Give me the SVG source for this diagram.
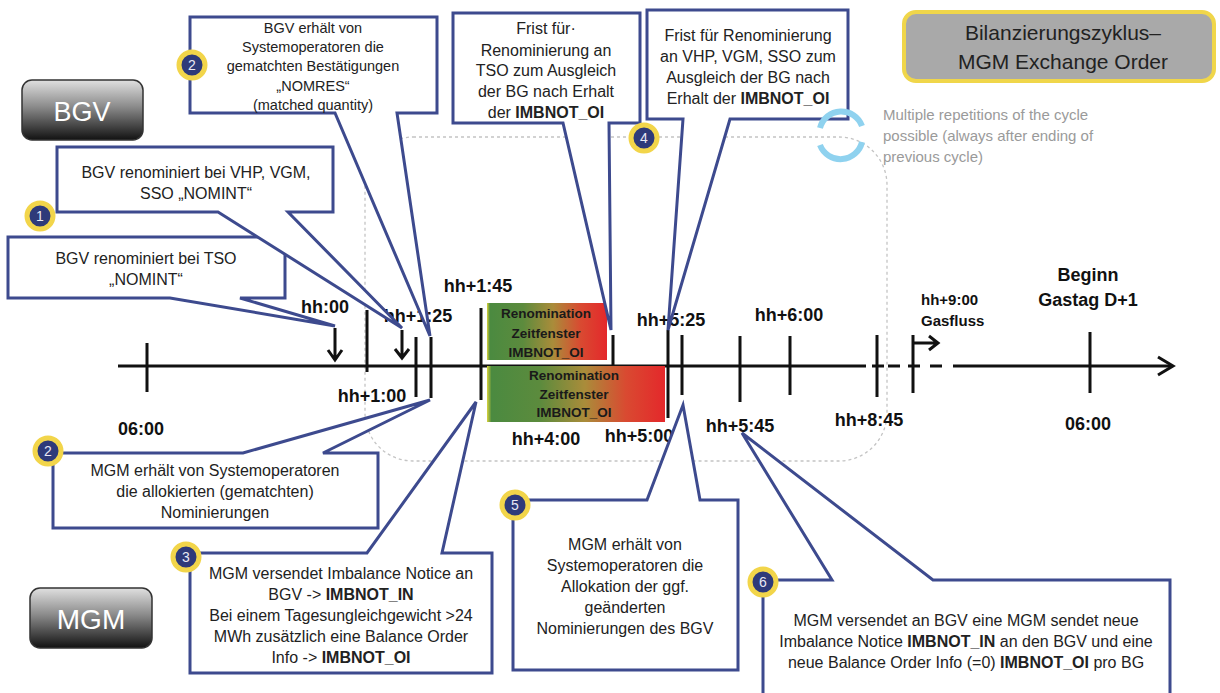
<svg xmlns="http://www.w3.org/2000/svg" width="1220" height="693" viewBox="0 0 1220 693">
<defs>
<linearGradient id="reno" x1="0" x2="1" y1="0" y2="0">
<stop offset="0" stop-color="#d9d33c"/>
<stop offset="0.025" stop-color="#4b8a40"/>
<stop offset="0.3" stop-color="#5c8b3d"/>
<stop offset="0.55" stop-color="#aa8c3a"/>
<stop offset="0.78" stop-color="#d94a31"/>
<stop offset="1" stop-color="#e4282b"/>
</linearGradient>
<linearGradient id="dark" x1="0" x2="0" y1="0" y2="1">
<stop offset="0" stop-color="#e0e0e0"/>
<stop offset="0.45" stop-color="#8a8a8a"/>
<stop offset="1" stop-color="#121212"/>
</linearGradient>
<style>
text{font-family:"Liberation Sans",Arial,sans-serif;}
.co{fill:#fff;stroke:#3d4a8e;stroke-width:3;stroke-linejoin:miter;}
.ct{font-size:16px;fill:#222;text-anchor:middle;}
.ct2{font-size:14.5px;fill:#222;text-anchor:middle;}
.b{font-weight:bold;}
.tl{stroke:#111;stroke-width:3;fill:none;}
.lab{font-size:18px;font-weight:bold;fill:#111;text-anchor:middle;}
.rt{font-size:13.5px;font-weight:bold;fill:#1a1a1a;text-anchor:middle;}
.badge circle{fill:#2e3a7a;stroke:#f2d54a;stroke-width:5;}
.badge text{font-size:14px;fill:#e8e8f4;text-anchor:middle;}
.role{stroke:#333;stroke-width:1.5;fill:url(#dark);}
.roletxt{fill:#fff;text-anchor:middle;}
</style>
</defs>
<rect width="1220" height="693" fill="#fff"/>

<!-- cycle frame -->
<rect id="cycle-frame" x="365" y="137" width="522" height="324" rx="48" fill="none" stroke="#c4c4c4" stroke-width="1.3" stroke-dasharray="3 3"/>

<!-- timeline -->
<g id="timeline">
<path class="tl" d="M118,366 H866 M872,366 H884 M888,366 H900 M908,366 H920 M930,366 H942 M953,366 H1172"/>
<path class="tl" d="M1158,357 L1173,366 L1158,375"/>
<path class="tl" d="M147,343 V392 M367,310 V372 M416,337 V397 M431,337 V398 M481,308 V400 M613,335 V367 M668,330 V418 M682,335 V395 M740,336 V402 M790,336 V395 M877,335 V397 M913,335 V393 M1090,332 V393"/>
<rect x="487" y="303" width="120" height="57" fill="url(#reno)"/>
<rect x="487" y="366" width="178" height="56" fill="url(#reno)"/>
<text class="rt" x="546" y="318">Renomination</text>
<text class="rt" x="546" y="338">Zeitfenster</text>
<text class="rt" x="546" y="357">IMBNOT_OI</text>
<text class="rt" x="574" y="380">Renomination</text>
<text class="rt" x="574" y="399">Zeitfenster</text>
<text class="rt" x="574" y="417">IMBNOT_OI</text>
<text class="lab" x="141" y="435">06:00</text>
<text class="lab" x="325" y="313">hh:00</text>
<text class="lab" x="418" y="322">hh+1:25</text>
<text class="lab" x="478" y="292">hh+1:45</text>
<text class="lab" x="372" y="402">hh+1:00</text>
<text class="lab" x="546" y="445">hh+4:00</text>
<text class="lab" x="639" y="442">hh+5:00</text>
<text class="lab" x="671" y="326">hh+5:25</text>
<text class="lab" x="740" y="432">hh+5:45</text>
<text class="lab" x="789" y="321">hh+6:00</text>
<text class="lab" x="869" y="426">hh+8:45</text>
<text class="lab" x="1088" y="430">06:00</text>
<text class="lab" x="1088" y="281">Beginn</text>
<text class="lab" x="1088" y="306">Gastag D+1</text>
<text x="921" y="305" style="font-size:15px;font-weight:bold;fill:#111">hh+9:00</text>
<text x="921" y="326" style="font-size:15px;font-weight:bold;fill:#111">Gasfluss</text>
</g>

<g id="connectors">
<path class="tl" d="M335,328 V360 M328,350 L335,360 L342,350"/>
<path class="tl" d="M402,330 V358 M395,349 L402,358 L409,349"/>
<path class="tl" d="M913,343 H937 M929,336 L938,343 L929,350"/>
</g>

<!-- callouts -->
<g id="callout-1b">
<path class="co" d="M8,237 H285 V298 H240 L335,326 L170,298 H8 Z"/>
<text class="ct" x="146" y="264">BGV renominiert bei TSO</text>
<text class="ct" x="146" y="285">„NOMINT“</text>
</g>
<g id="callout-1a">
<path class="co" d="M57,147 H333 V212 H288 L402,328 L218,212 H57 Z"/>
<text class="ct" x="196" y="178">BGV renominiert bei VHP, VGM,</text>
<text class="ct" x="196" y="199">SSO „NOMINT“</text>
</g>
<g id="callout-2-top">
<path class="co" d="M190,17 H437 V113 H397 L430,336 L335,113 H190 Z"/>
<text class="ct2" x="313" y="33">BGV erhält von</text>
<text class="ct2" x="313" y="52">Systemoperatoren  die</text>
<text class="ct2" x="313" y="71">gematchten Bestätigungen</text>
<text class="ct2" x="313" y="91">„NOMRES“</text>
<text class="ct2" x="313" y="110">(matched quantity)</text>
</g>
<g id="callout-4a">
<path class="co" d="M453,13 H640 V123 H609 L611,330 L563,123 H453 Z"/>
<text class="ct" x="546" y="34">Frist für·</text>
<text class="ct" x="546" y="56">Renominierung an</text>
<text class="ct" x="546" y="76">TSO zum Ausgleich</text>
<text class="ct" x="546" y="97">der BG nach Erhalt</text>
<text class="ct" x="546" y="118">der <tspan class="b">IMBNOT_OI</tspan></text>
</g>
<g id="callout-4b">
<path class="co" d="M647,10 H848 V119 H730 L668,330 L683,119 H647 Z"/>
<text class="ct" x="748" y="41">Frist für Renominierung</text>
<text class="ct" x="748" y="62">an VHP, VGM, SSO zum</text>
<text class="ct" x="748" y="83">Ausgleich der BG nach</text>
<text class="ct" x="748" y="104">Erhalt der <tspan class="b">IMBNOT_OI</tspan></text>
</g>
<g id="callout-2-bottom">
<path class="co" d="M53,453 H243 L430,400 L323,453 H378 V528 H53 Z"/>
<text class="ct" x="215" y="476">MGM erhält von Systemoperatoren</text>
<text class="ct" x="215" y="497">die allokierten (gematchten)</text>
<text class="ct" x="215" y="518">Nominierungen</text>
</g>
<g id="callout-3">
<path class="co" d="M190,553 H367 L476,402 L442,553 H492 V673 H190 Z"/>
<text class="ct" x="341" y="579">MGM versendet Imbalance Notice an</text>
<text class="ct" x="341" y="600">BGV -&gt; <tspan class="b">IMBNOT_IN</tspan></text>
<text class="ct" x="341" y="621">Bei einem Tagesungleichgewicht &gt;24</text>
<text class="ct" x="341" y="642">MWh zusätzlich eine Balance Order</text>
<text class="ct" x="341" y="663">Info -&gt; <tspan class="b">IMBNOT_OI</tspan></text>
</g>
<g id="callout-5">
<path class="co" d="M513,500 H647 L683,405 L700,500 H738 V670 H513 Z"/>
<text class="ct" x="625" y="550">MGM erhält von</text>
<text class="ct" x="625" y="571">Systemoperatoren die</text>
<text class="ct" x="625" y="592">Allokation der ggf.</text>
<text class="ct" x="625" y="613">geänderten</text>
<text class="ct" x="625" y="634">Nominierungen des BGV</text>
</g>
<g id="callout-6">
<path class="co" d="M763,580 H832 L742,433 L933,580 H1170 V702 H763 Z"/>
<text class="ct" x="966" y="626">MGM versendet an BGV eine MGM sendet neue</text>
<text class="ct" x="966" y="647">Imbalance Notice <tspan class="b">IMBNOT_IN</tspan> an den BGV und eine</text>
<text class="ct" x="966" y="668">neue Balance Order Info (=0) <tspan class="b">IMBNOT_OI</tspan> pro BG</text>
</g>

<!-- badges -->
<g id="badge-1" class="badge"><circle cx="40" cy="216" r="13"/><text x="40" y="221">1</text></g>
<g id="badge-2-top" class="badge"><circle cx="192" cy="65" r="13"/><text x="192" y="70">2</text></g>
<g id="badge-2-bottom" class="badge"><circle cx="48" cy="451" r="13"/><text x="48" y="456">2</text></g>
<g id="badge-3" class="badge"><circle cx="186" cy="557" r="13"/><text x="186" y="562">3</text></g>
<g id="badge-4" class="badge"><circle cx="644" cy="138" r="13"/><text x="644" y="143">4</text></g>
<g id="badge-5" class="badge"><circle cx="515" cy="505" r="13"/><text x="515" y="510">5</text></g>
<g id="badge-6" class="badge"><circle cx="763" cy="582" r="13"/><text x="763" y="587">6</text></g>

<!-- roles -->
<g id="role-bgv">
<rect class="role" x="22" y="80" width="121" height="60" rx="10"/>
<text class="roletxt" x="82" y="121" style="font-size:27px">BGV</text>
</g>
<g id="role-mgm">
<rect class="role" x="30" y="588" width="122" height="60" rx="10"/>
<text class="roletxt" x="91" y="629" style="font-size:28px">MGM</text>
</g>

<!-- title -->
<g id="title">
<rect x="904" y="12" width="310" height="69" rx="12" fill="#a9a9a9" stroke="#f0d64a" stroke-width="4"/>
<text x="1063" y="40" style="font-size:21px;fill:#222;text-anchor:middle">Bilanzierungszyklus–</text>
<text x="1063" y="69" style="font-size:21px;fill:#222;text-anchor:middle">MGM Exchange Order</text>
</g>

<!-- repetition note -->
<g id="repetition-note">
<path d="M820,128 A22,22 0 0 1 862,126" fill="none" stroke="#8fd2ef" stroke-width="6"/>
<path d="M862,142 A22,22 0 0 1 820,145" fill="none" stroke="#8fd2ef" stroke-width="6"/>
<text x="883" y="120" style="font-size:15px;fill:#9a9a9a">Multiple repetitions of the cycle</text>
<text x="883" y="141" style="font-size:15px;fill:#9a9a9a">possible (always after ending of</text>
<text x="883" y="162" style="font-size:15px;fill:#9a9a9a">previous cycle)</text>
</g>
</svg>
